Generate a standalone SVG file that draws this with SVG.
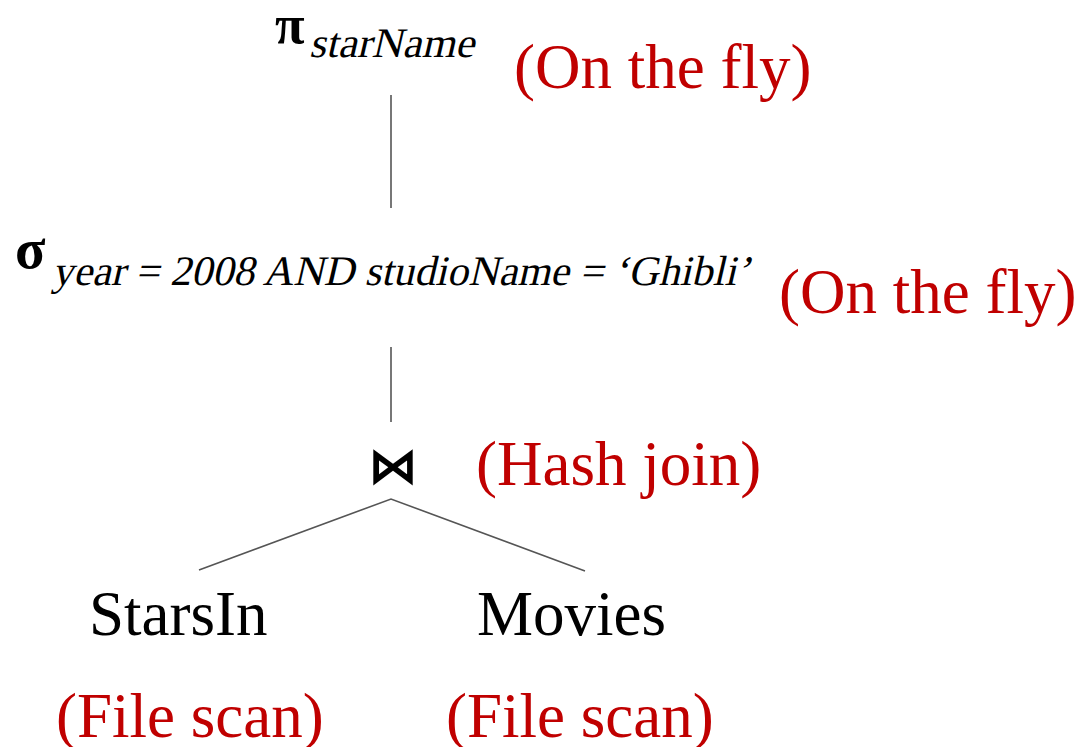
<svg xmlns="http://www.w3.org/2000/svg" width="1086" height="747" viewBox="0 0 1086 747">
  <style>
    .op { font-family: "Liberation Serif", "Times New Roman", serif; font-weight: bold; fill: #000; }
    .rel { font-family: "Liberation Serif", "Times New Roman", serif; font-size: 63px; fill: #000; }
    .algo { font-family: "Liberation Serif", "Times New Roman", serif; font-size: 63px; fill: #c00000; }
    .edge { stroke: #555; stroke-width: 1.6; fill: none; }
  </style>
  <rect width="1086" height="747" fill="#fff"/>

  <g id="connectors">
    <line class="edge" x1="391" y1="95" x2="391" y2="208"/>
    <line class="edge" x1="391" y1="347" x2="391" y2="422"/>
    <polyline class="edge" points="199,570 391,499 585,571"/>
  </g>

  <!-- subscripts: upright serif text slanted by a skew -->
  <g id="project">
    <text class="op" x="275" y="43" font-size="54">π</text>
    <g transform="translate(309,57) skewX(-13)">
      <text x="0" y="0" font-family="Liberation Serif, Times New Roman, serif" font-size="42" fill="#000" textLength="165" lengthAdjust="spacingAndGlyphs">starName</text>
    </g>
    <text class="algo" x="514" y="88">(On the fly)</text>
  </g>

  <g id="select">
    <text class="op" x="15" y="268" font-size="56">σ</text>
    <g transform="translate(52,285) skewX(-13)">
      <text x="0" y="0" font-family="Liberation Serif, Times New Roman, serif" font-size="42" fill="#000" textLength="698" lengthAdjust="spacingAndGlyphs">year = 2008 AND studioName = ‘Ghibli’</text>
    </g>
    <text class="algo" x="779" y="313">(On the fly)</text>
  </g>

  <g id="join">
    <text x="393" y="483" text-anchor="middle" font-family="DejaVu Sans, sans-serif" font-size="50" font-weight="bold" fill="#000">⋈</text>
    <text class="algo" x="476" y="485">(Hash join)</text>
  </g>

  <g id="starsin">
    <text class="rel" x="89" y="635">StarsIn</text>
    <text class="algo" x="56" y="737">(File scan)</text>
  </g>

  <g id="movies">
    <text class="rel" x="477" y="635">Movies</text>
    <text class="algo" x="446" y="737">(File scan)</text>
  </g>
</svg>
